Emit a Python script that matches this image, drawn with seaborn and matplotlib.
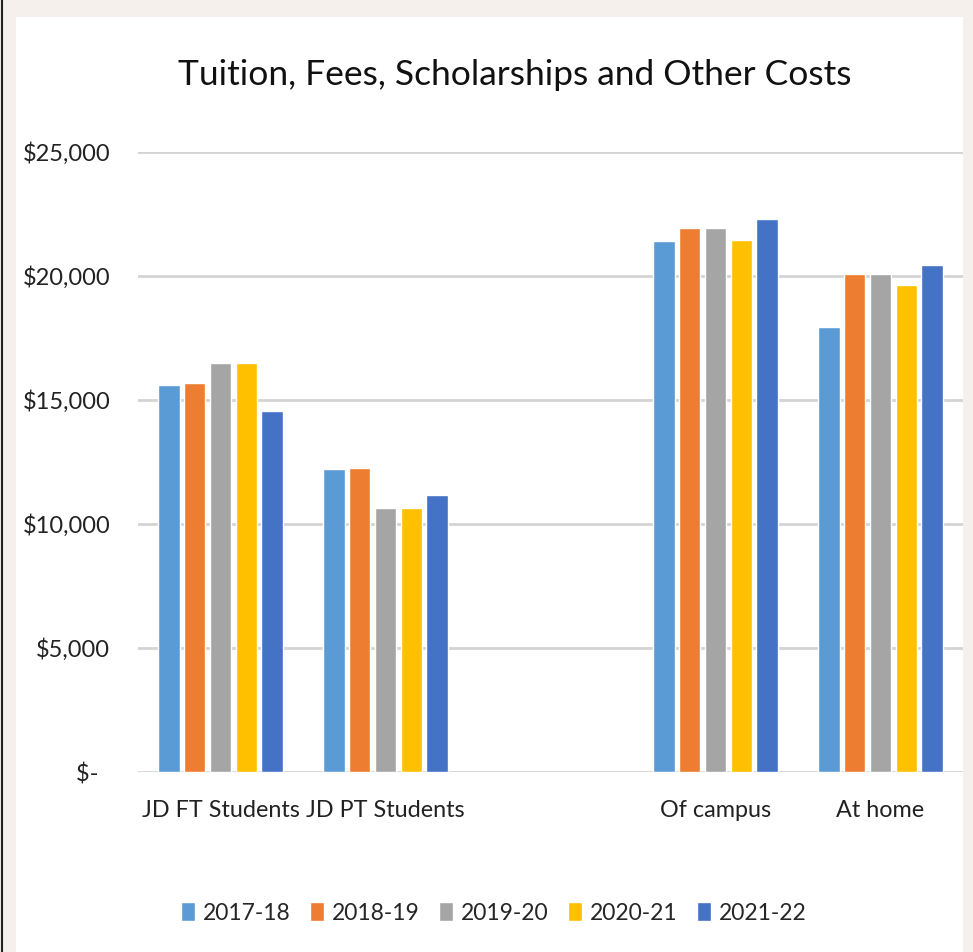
import matplotlib
matplotlib.use("Agg")
import matplotlib.pyplot as plt
from matplotlib.patches import Rectangle
from matplotlib.lines import Line2D
import seaborn as sns
import pandas as pd

categories = ["JD FT Students", "JD PT Students", "Of campus", "At home"]
order = ["JD FT Students", "JD PT Students", " ", "Of campus", "At home"]
years = ["2017-18", "2018-19", "2019-20", "2020-21", "2021-22"]
v_2017 = [15600, 12200, 21400, 17950]
v_2018 = [15700, 12250, 21950, 20100]
v_2019 = [16500, 10650, 21950, 20100]
v_2020 = [16500, 10650, 21450, 19650]
v_2021 = [14550, 11150, 22300, 20450]
colors = ["#5B9BD5", "#ED7D31", "#A5A5A5", "#FFC000", "#4472C4"]
yticks = [0, 5000, 10000, 15000, 20000, 25000]
ytick_labels = ["$-  ", "$5,000", "$10,000", "$15,000", "$20,000", "$25,000"]

rows = []
for yr, vals in zip(years, [v_2017, v_2018, v_2019, v_2020, v_2021]):
    for c, v in zip(categories, vals):
        rows.append({"cat": c, "year": yr, "value": v})
df = pd.DataFrame(rows)

sns.set_theme(style="white")
plt.rcParams["font.family"] = ["Lato", "DejaVu Sans"]

fig = plt.figure(figsize=(9.73, 9.52), dpi=100)
fig.patch.set_facecolor("#F5F0EC")
fig.add_artist(Rectangle((16/973, 0), (963-16)/973, (952-17)/952,
                         transform=fig.transFigure, facecolor="white",
                         edgecolor="none", zorder=0))
fig.add_artist(Line2D([2/973, 2/973], [0, 1], transform=fig.transFigure,
                      color="#222222", linewidth=1.5))

ax = fig.add_axes([138/973, 1 - 772/952, 825/973, 620/952])
ax.set_facecolor("none")
sns.barplot(data=df, x="cat", y="value", hue="year", order=order,
            hue_order=years, palette=colors, width=0.78, gap=0.18,
            ax=ax, errorbar=None, saturation=1, zorder=3)

ax.set_ylim(0, 25000)
ax.set_yticks(yticks)
ax.set_yticklabels(ytick_labels, fontsize=17, color="#222222")
ax.set_xticks(range(len(order)))
ax.set_xticklabels(order, fontsize=16.8, color="#222222")
ax.tick_params(axis="x", length=0, pad=20)
ax.tick_params(axis="y", length=0, pad=20)
ax.set_xlabel("")
ax.set_ylabel("")
for s in ax.spines.values():
    s.set_visible(False)
ax.grid(axis="y", color="#D4D4D4", linewidth=2, zorder=0)
ax.set_axisbelow(True)
ax.set_xlim(-0.5, 4.5)

fig.text(515/973, 1 - 75/952, "Tuition, Fees, Scholarships and Other Costs",
         ha="center", va="center", fontsize=25.5, color="#111111")

handles, labels = ax.get_legend_handles_labels()
if ax.legend_:
    ax.legend_.remove()
fig.legend(handles, labels, loc="center", bbox_to_anchor=(494/973, 1 - 913/952),
           ncol=5, frameon=False, fontsize=16.5, handlelength=0.6,
           handleheight=0.9, handletextpad=0.35, columnspacing=0.85)

fig.savefig("out.png", dpi=100, facecolor=fig.get_facecolor())
